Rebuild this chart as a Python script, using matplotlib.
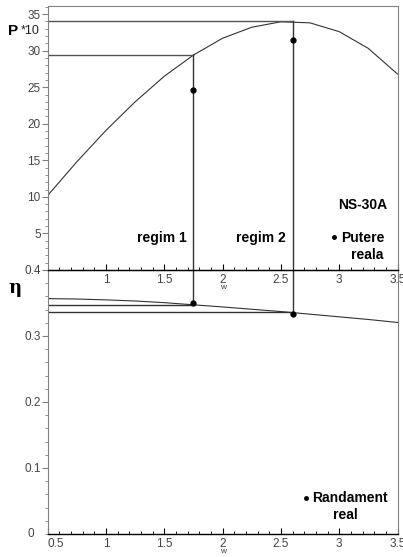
import numpy as np
import matplotlib.pyplot as plt
from matplotlib.ticker import MultipleLocator, FixedLocator

plt.rcParams['font.family'] = ['Liberation Sans', 'DejaVu Sans']

# putere (P*10) vs w
w = [0.5, 0.75, 1.0, 1.25, 1.5, 1.75, 2.0, 2.25, 2.5, 2.75, 3.0, 3.25, 3.5]
putere = [10.2, 14.8, 19.1, 23.0, 26.5, 29.4, 31.7, 33.2, 33.95, 33.8, 32.6, 30.3, 26.8]

# randament vs w
randament = [0.3566, 0.3560, 0.3547, 0.3530, 0.3505, 0.3472, 0.3440, 0.3405,
             0.3370, 0.3330, 0.3290, 0.3250, 0.3205]

# regimuri de lucru
w_reg = [1.75, 2.6]
p_teor = [29.4, 34.0]
p_real = [24.6, 31.4]
eta_teor = [0.347, 0.336]
eta_real = [0.3505, 0.3333]

spine_grey = '#808080'
txt_grey = '#444444'

fig = plt.figure(figsize=(4.03, 5.57), dpi=100)
ax2 = fig.add_axes([0.1184, 0.0413, 0.868, 0.4740])
ax1 = fig.add_axes([0.1184, 0.5153, 0.868, 0.4745])
ax1.patch.set_alpha(0)
ax2.patch.set_alpha(0)

# --- sus: putere ---
ax1.plot(w, putere, color='#333333', lw=0.8)
for xr, pt in zip(w_reg, p_teor):
    ax1.plot([0.5, xr], [pt, pt], color='#555555', lw=1)
    ax1.plot([xr, xr], [pt, 0], color='#333333', lw=1)
ax1.plot(w_reg, p_real, 'o', color='black', ms=3.5)
ax1.set_xlim(0.5, 3.5)
ax1.set_ylim(0, 36.15)
ax1.yaxis.set_major_locator(FixedLocator([5, 10, 15, 20, 25, 30, 35]))
ax1.yaxis.set_minor_locator(MultipleLocator(1))
ax1.xaxis.set_major_locator(FixedLocator([1, 1.5, 2, 2.5, 3, 3.5]))
ax1.xaxis.set_minor_locator(MultipleLocator(0.1))
ax1.set_xticklabels(['1', '1.5', '2', '2.5', '3', '3.5'])

ax1.text(2.99, 8.9, 'NS-30A', fontsize=10, fontweight='bold', va='center')
ax1.text(1.266, 4.4, 'regim 1', fontsize=10, fontweight='bold', va='center')
ax1.text(2.115, 4.4, 'regim 2', fontsize=10, fontweight='bold', va='center')
ax1.plot([2.955], [4.5], 'o', color='black', ms=2.5)
ax1.text(3.02, 4.4, 'Putere', fontsize=10, fontweight='bold', va='center')
ax1.text(3.1, 2.0, 'reala', fontsize=10, fontweight='bold', va='center')
ax1.text(2.0, -2.46, 'w', fontsize=6, ha='center', va='center', color=txt_grey)

# --- jos: randament ---
ax2.plot(w, randament, color='#333333', lw=0.8)
for xr, et, er in zip(w_reg, eta_teor, eta_real):
    ax2.plot([0.5, xr], [et, et], color='#333333', lw=1)
    ax2.plot([xr, xr], [0.4, er], color='#333333', lw=1)
ax2.plot(w_reg, eta_real, 'o', color='black', ms=3.5)
ax2.set_xlim(0.5, 3.5)
ax2.set_ylim(0, 0.4)
ax2.yaxis.set_major_locator(FixedLocator([0.1, 0.2, 0.3, 0.4]))
ax2.yaxis.set_minor_locator(MultipleLocator(0.02))
ax2.xaxis.set_major_locator(FixedLocator([0.5, 1, 1.5, 2, 2.5, 3, 3.5]))
ax2.xaxis.set_minor_locator(MultipleLocator(0.1))
ax2.set_xticklabels(['0.5', '1', '1.5', '2', '2.5', '3', '3.5'])
ax2.set_yticklabels(['0.1', '0.2', '0.3', '0.4'])
ax2.get_xticklabels()[0].set_horizontalalignment('left')

ax2.plot([2.715], [0.055], 'o', color='black', ms=2.5)
ax2.text(2.764, 0.055, 'Randament', fontsize=10, fontweight='bold', va='center')
ax2.text(2.95, 0.029, 'real', fontsize=10, fontweight='bold', va='center')
ax2.text(2.0, -0.027, 'w', fontsize=6, ha='center', va='center', color=txt_grey)
ax2.text(0.352, 0.0, '0', fontsize=8.5, ha='center', va='center', color=txt_grey)

for ax in (ax1, ax2):
    for s in ('left', 'right', 'top'):
        ax.spines[s].set_color(spine_grey)
    ax.spines['bottom'].set_color('black')
    ax.spines['bottom'].set_linewidth(1.0)
    ax.tick_params(axis='y', which='major', direction='out', length=4,
                   color=spine_grey, labelsize=8.5, labelcolor=txt_grey, pad=1)
    ax.tick_params(axis='y', which='minor', direction='out', length=2, color=spine_grey)
    ax.tick_params(axis='x', which='major', direction='in', length=4,
                   labelsize=8.5, labelcolor=txt_grey, pad=3)
    ax.tick_params(axis='x', which='minor', direction='in', length=2)
ax2.spines['top'].set_color('black')

fig.text(0.02, 0.945, 'P', fontsize=11, fontweight='bold', va='center')
fig.text(0.052, 0.945, '*10', fontsize=9, va='center', color='#222222')
fig.text(0.022, 0.483, 'η', fontsize=13, fontweight='bold', va='center',
         family=['DejaVu Serif'])

fig.savefig('out.png', dpi=100)
